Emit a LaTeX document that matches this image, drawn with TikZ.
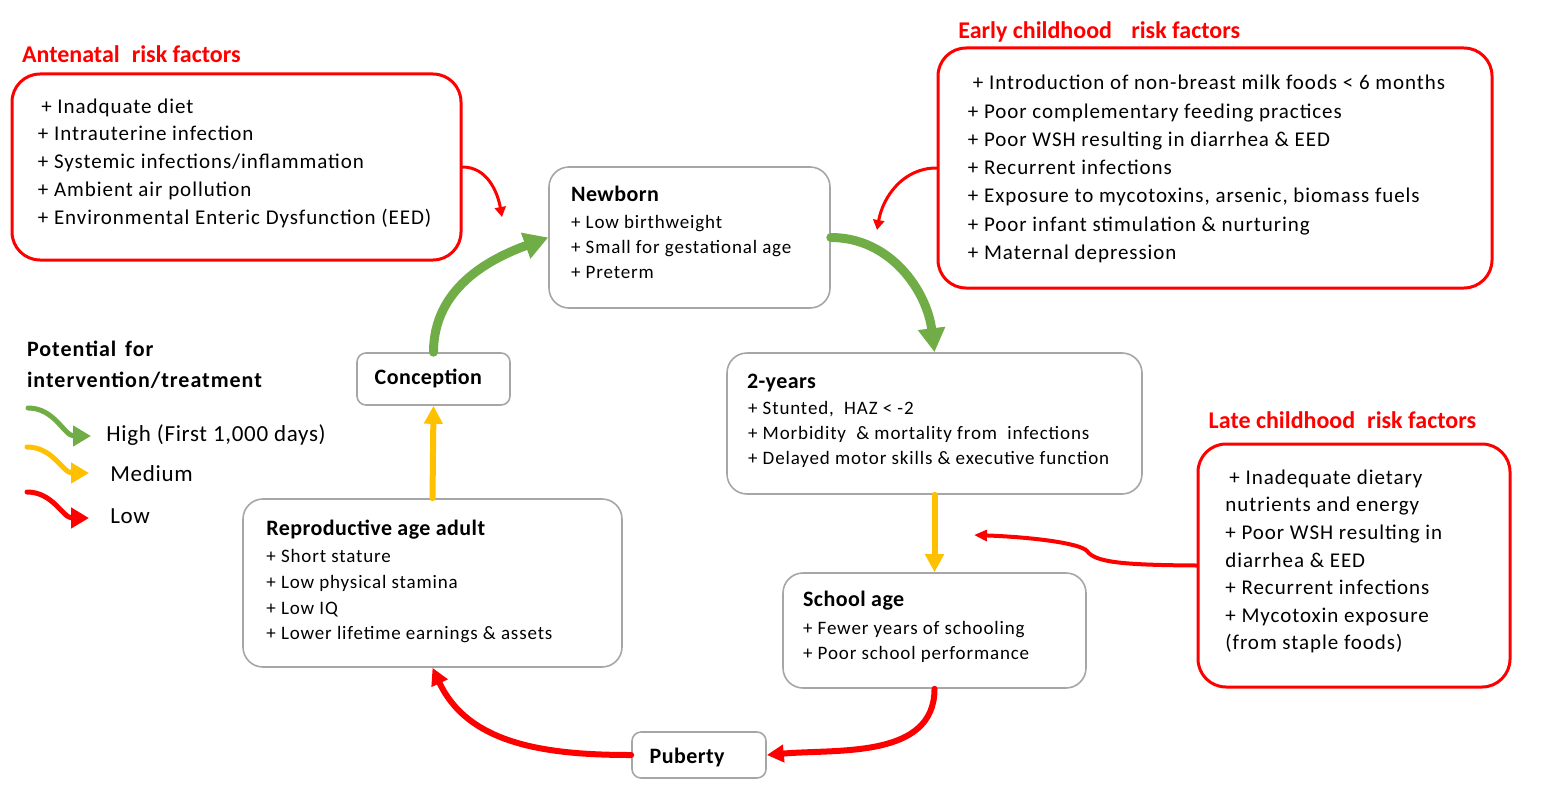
\documentclass[tikz,border=0pt]{standalone}
\usepackage{fontspec}
\setmainfont{Carlito}
\newfontfamily\linefont[LetterSpace=4.5]{Carlito}
\newfontfamily\legendfont[LetterSpace=3]{Carlito}
\newfontfamily\headfont[LetterSpace=2]{Carlito}
\usetikzlibrary{arrows.meta}
\definecolor{riskred}{HTML}{FF0000}
\definecolor{highgreen}{HTML}{70AD47}
\definecolor{medyellow}{HTML}{FFC000}
\definecolor{boxgray}{HTML}{A6A6A6}

\begin{document}
\begin{tikzpicture}[x=0.5pt,y=-0.5pt,line cap=round,line join=round,
  riskbox/.style={draw=riskred,line width=1.5pt,rounded corners=14pt,inner sep=0pt},
  stagebox/.style={draw=boxgray,line width=0.8pt,rounded corners=10pt,inner sep=0pt},
  smallbox/.style={stagebox,rounded corners=4.5pt},
  risktitle/.style={text=riskred,font=\fontsize{12}{14}\selectfont\bfseries,anchor=base west,inner sep=0pt},
  riskline/.style={font=\linefont\fontsize{10.5}{12}\selectfont,anchor=base west,inner sep=0pt},
  stagetitle/.style={font=\headfont\fontsize{11}{13}\selectfont\bfseries,anchor=base west,inner sep=0pt},
  stageline/.style={font=\linefont\fontsize{9.5}{11}\selectfont,anchor=base west,inner sep=0pt},
  legendhead/.style={font=\linefont\fontsize{11}{13}\selectfont\bfseries,anchor=base west,inner sep=0pt},
  legendtext/.style={font=\legendfont\fontsize{11.5}{13}\selectfont,anchor=base west,inner sep=0pt},
  growarrow/.style={draw=highgreen,line width=4.5pt,-{Triangle[width=13pt,length=12pt]}},
  midarrow/.style={draw=medyellow,line width=3pt,-{Triangle[width=9pt,length=9pt]}},
  lowarrow/.style={draw=riskred,line width=3pt,-{Triangle[width=8.5pt,length=8.5pt]}},
  feedarrow/.style={draw=riskred,line width=1.5pt,-{Triangle[width=5.5pt,length=5pt]}},
  latearrow/.style={draw=riskred,line width=2pt,-{Triangle[width=5.5pt,length=6.5pt]}},
  legendarrow/.style={line width=2.5pt,-{Triangle[width=10pt,length=9pt]}}]
  \useasboundingbox (0,0) rectangle (1550,797);

  % risk factor boxes
  \node[risktitle] (antetitle) at (21.7,62.3) {Antenatal\hspace{0.5em}risk factors};
  \node[riskbox,minimum width=224.5pt,minimum height=93pt] (ante) at (236.5,167) {};
  \foreach \txt [count=\i] in {{\hspace{1.7pt}+ Inadquate diet},{+ Intrauterine infection},
      {+ Systemic infections/inflammation},{+ Ambient air pollution},
      {+ Environmental Enteric Dysfunction (EED)}}
    \node[riskline] (ante-\i) at (37.5,{113+27.9*(\i-1)}) {\txt};

  \node[risktitle] (earlytitle) at (958,38.3) {Early childhood\hspace{0.8em}risk factors};
  \node[riskbox,minimum width=277pt,minimum height=120pt] (early) at (1215,168) {};
  \foreach \txt [count=\i] in {{\hspace{2.5pt}+ Introduction of non-breast milk foods < 6 months},
      {+ Poor complementary feeding practices},{+ Poor WSH resulting in diarrhea \& EED},
      {+ Recurrent infections},{+ Exposure to mycotoxins, arsenic, biomass fuels},
      {+ Poor infant stimulation \& nurturing},{+ Maternal depression}}
    \node[riskline] (early-\i) at (967.5,{90+28.2*(\i-1)}) {\txt};

  \node[risktitle] (latetitle) at (1208.3,428.3) {Late childhood\hspace{0.5em}risk factors};
  \node[riskbox,minimum width=156pt,minimum height=121.5pt] (late) at (1354,565.5) {};
  \foreach \txt [count=\i] in {{\hspace{2pt}+ Inadequate dietary},{nutrients and energy},
      {+ Poor WSH resulting in},{diarrhea \& EED},{+ Recurrent infections},
      {+ Mycotoxin exposure},{(from staple foods)}}
    \node[riskline] (late-\i) at (1225,{484.3+27.6*(\i-1)}) {\txt};

  % life stages
  \node[stagebox,minimum width=140.5pt,minimum height=70.5pt] (nb) at (689.5,237.5) {};
  \node[stagetitle] (nbtitle) at (570.7,201.7) {Newborn};
  \foreach \txt [count=\i] in {{+ Low birthweight},{+ Small for gestational age},{+ Preterm}}
    \node[stageline] (nb-\i) at (570.7,{228.3+25*(\i-1)}) {\txt};

  \node[stagebox,minimum width=207.5pt,minimum height=70.5pt] (two) at (934.5,423.5) {};
  \node[stagetitle] (twotitle) at (746.7,388.3) {2-years};
  \foreach \txt [count=\i] in {{+ Stunted,\ \ HAZ < -2},{+ Morbidity\ \ \& mortality from\ \ infections},
      {+ Delayed motor skills \& executive function}}
    \node[stageline] (two-\i) at (747.7,{414+25*(\i-1)}) {\txt};

  \node[stagebox,minimum width=151.5pt,minimum height=57.5pt] (school) at (934.5,630.5) {};
  \node[stagetitle] (schooltitle) at (802.7,606.7) {School age};
  \foreach \txt [count=\i] in {{+ Fewer years of schooling},{+ Poor school performance}}
    \node[stageline] (school-\i) at (802.7,{634+25*(\i-1)}) {\txt};

  \node[smallbox,minimum width=67pt,minimum height=23pt] (pub) at (699,755) {};
  \node[stagetitle] (pubtitle) at (649.3,763.3) {Puberty};

  \node[stagebox,minimum width=189.5pt,minimum height=84pt] (repro) at (432.5,583) {};
  \node[stagetitle] (reprotitle) at (266,535.7) {Reproductive age adult};
  \foreach \txt [count=\i] in {{+ Short stature},{+ Low physical stamina},{+ Low IQ},
      {+ Lower lifetime earnings \& assets}}
    \node[stageline] (repro-\i) at (266,{562.7+25.7*(\i-1)}) {\txt};

  \node[smallbox,minimum width=76.5pt,minimum height=26pt] (conc) at (433.5,379) {};
  \node[stagetitle] (conctitle) at (374.3,384) {Conception};

  % cycle
  \draw[growarrow] (conc.north) to[out=90,in=200] (nb.west);
  \draw[growarrow] (nb.east) to[out=0,in=97] (two.north);
  \draw[midarrow] (two.south) -- (school.north);
  \draw[lowarrow] (school.south) to[out=-90,in=5] (pub.east);
  \draw[lowarrow] (pub.west) to[out=180,in=-65] (repro.south);
  \draw[midarrow] (repro.north) -- (conc.south);

  % risk factors feeding in
  \coordinate (anteend) at (502,217);
  \coordinate (earlyend) at (877,230);
  \coordinate (latebend) at (1087,551);
  \coordinate (lateend) at (974,535);
  \draw[feedarrow] (ante.east) to[out=0,in=100] (anteend);
  \draw[feedarrow] (early.west) to[out=180,in=80] (earlyend);
  \draw[latearrow] (late.west) .. controls (1120,565) and (1095,562) .. (latebend)
    .. controls (1080,543) and (1030,537) .. (lateend);

  % legend
  \node[legendhead] (leg1) at (26.7,356.7) {Potential\hspace{0.4em}for};
  \node[legendhead] (leg2) at (26.7,387.3) {intervention/treatment};
  \coordinate (hiA) at (28,408);  \coordinate (hiB) at (91,436);
  \coordinate (medA) at (27,447); \coordinate (medB) at (89,473);
  \coordinate (lowA) at (27,492); \coordinate (lowB) at (89,518);
  \draw[legendarrow,draw=highgreen] (hiA) to[out=0,in=180] (hiB);
  \draw[legendarrow,draw=medyellow] (medA) to[out=0,in=180] (medB);
  \draw[legendarrow,draw=riskred] (lowA) to[out=0,in=180] (lowB);
  \node[legendtext] (hitext) at (106,441.7) {High (First 1,000 days)};
  \node[legendtext] (medtext) at (110,481.7) {Medium};
  \node[legendtext] (lowtext) at (110,523) {Low};
\end{tikzpicture}
\end{document}
